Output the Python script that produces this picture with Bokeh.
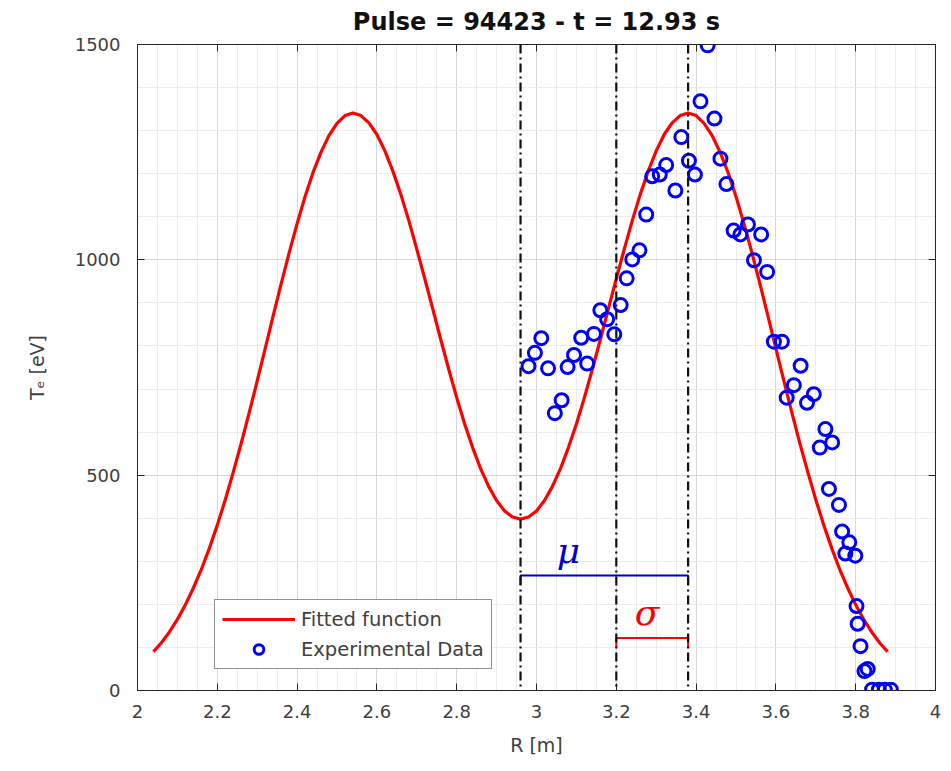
import numpy as np
from bokeh.plotting import figure
from bokeh.models import (SingleIntervalTicker, LinearAxis, Range1d, Label,
                          CustomJSTickFormatter, Span)
from bokeh.embed import file_html
from bokeh.resources import INLINE

# ---------------- data ----------------
title_text = "Pulse = 94423 - t = 12.93 s"
x_label = "R [m]"
y_label = "Tₑ [eV]"

# fitted function
fit_R = [2.04, 2.06, 2.08, 2.10, 2.12, 2.14, 2.16, 2.18, 2.20, 2.22, 2.24, 2.26,
         2.28, 2.30, 2.32, 2.34, 2.36, 2.38, 2.40, 2.42, 2.44, 2.46, 2.48, 2.50,
         2.52, 2.54, 2.56, 2.58, 2.60, 2.62, 2.64, 2.66, 2.68, 2.70, 2.72, 2.74,
         2.76, 2.78, 2.80, 2.82, 2.84, 2.86, 2.88, 2.90, 2.92, 2.94, 2.96, 2.98,
         3.00, 3.02, 3.04, 3.06, 3.08, 3.10, 3.12, 3.14, 3.16, 3.18, 3.20, 3.22,
         3.24, 3.26, 3.28, 3.30, 3.32, 3.34, 3.36, 3.38, 3.40, 3.42, 3.44, 3.46,
         3.48, 3.50, 3.52, 3.54, 3.56, 3.58, 3.60, 3.62, 3.64, 3.66, 3.68, 3.70,
         3.72, 3.74, 3.76, 3.78, 3.80, 3.82, 3.84, 3.86, 3.88]
fit_T = [90, 111, 136, 165, 199, 238, 281, 330, 384, 443, 507, 574,
         645, 719, 794, 870, 944, 1016, 1084, 1147, 1203, 1250, 1289, 1317,
         1335, 1341, 1335, 1318, 1291, 1253, 1206, 1152, 1091, 1025, 956, 886,
         815, 746, 680, 619, 564, 515, 474, 441, 417, 403, 398, 403,
         417, 441, 474, 515, 564, 619, 680, 746, 815, 886, 956, 1025,
         1091, 1152, 1206, 1253, 1291, 1318, 1335, 1341, 1335, 1317, 1289, 1250,
         1203, 1147, 1084, 1016, 944, 870, 794, 719, 645, 574, 507, 443,
         384, 330, 281, 238, 199, 165, 136, 111, 90]

# experimental data
exp_R = [2.980, 2.996, 3.012, 3.029, 3.046, 3.063, 3.078, 3.094, 3.112, 3.127,
         3.144, 3.160, 3.177, 3.195, 3.211, 3.226, 3.240, 3.258, 3.275, 3.290,
         3.309, 3.325, 3.348, 3.363, 3.382, 3.397, 3.411, 3.429, 3.446, 3.461,
         3.476, 3.494, 3.511, 3.530, 3.545, 3.563, 3.578, 3.595, 3.615, 3.627,
         3.645, 3.662, 3.678, 3.695, 3.710, 3.724, 3.733, 3.741, 3.758, 3.766,
         3.774, 3.784, 3.799, 3.802, 3.805, 3.812, 3.822, 3.830, 3.841, 3.858,
         3.873, 3.888]
exp_T = [753, 784, 818, 748, 644, 674, 751, 779, 819, 759,
         828, 883, 862, 827, 895, 957, 1001, 1022, 1105, 1194,
         1198, 1220, 1161, 1285, 1230, 1198, 1368, 1498, 1328, 1235,
         1176, 1068, 1059, 1082, 999, 1059, 972, 810, 810, 680,
         709, 754, 668, 688, 564, 607, 468, 576, 431, 369,
         318, 344, 313, 196, 155, 103, 45, 50, 2, 2,
         2, 2]

# markers of the fit parameters
r_min, r_sigma, r_peak = 2.96, 3.20, 3.38
mu_bar_T, sigma_bar_T, bar_tick = 267, 122, 22
mu_label_pos = (3.08, 325)
sigma_label_pos = (3.277, 181)

# ---------------- figure ----------------
TXT = "#404040"
FONT = "DejaVu Sans"

p = figure(width=951, height=771, output_backend="svg", toolbar_location=None,
           x_range=Range1d(2, 4), y_range=Range1d(0, 1500),
           min_border_left=137, min_border_right=16, min_border_top=43,
           min_border_bottom=81, background_fill_color="white",
           border_fill_color="white", title=title_text)

p.title.align = "center"
p.title.text_font = FONT
p.title.text_font_size = "24px"
p.title.text_font_style = "bold"
p.title.text_color = "#111111"
p.title.standoff = 10

xt = SingleIntervalTicker(interval=0.2, num_minor_ticks=4)
yt = SingleIntervalTicker(interval=500, num_minor_ticks=5)
p.xaxis.ticker = xt
p.yaxis.ticker = yt
p.xgrid.ticker = xt
p.ygrid.ticker = yt
p.xaxis.formatter = CustomJSTickFormatter(code="return Number(tick.toFixed(1)).toString();")

for ax in (p.xaxis[0], p.yaxis[0]):
    ax.major_tick_in = 7
    ax.major_tick_out = 0
    ax.minor_tick_line_color = None
    ax.axis_line_color = "#262626"
    ax.major_tick_line_color = "#262626"
    ax.major_label_text_font = FONT
    ax.major_label_text_font_size = "18px"
    ax.major_label_text_color = TXT
    ax.axis_label_text_font = FONT
    ax.axis_label_text_font_size = "19px"
    ax.axis_label_text_font_style = "normal"
    ax.axis_label_text_color = TXT

p.xaxis.axis_label = x_label
p.yaxis.axis_label = y_label
p.xaxis.major_label_standoff = 10
p.xaxis.axis_label_standoff = 13
p.yaxis.major_label_standoff = 13
p.yaxis.axis_label_standoff = 24

blank = CustomJSTickFormatter(code="return '';")
for loc, tk in (("right", yt), ("above", xt)):
    ax = LinearAxis(ticker=tk, formatter=blank, major_tick_in=7, major_tick_out=0,
                    minor_tick_line_color=None, major_label_standoff=0,
                    axis_line_color="#262626", major_tick_line_color="#262626")
    p.add_layout(ax, loc)

p.outline_line_color = "#262626"

p.xgrid.grid_line_color = "#d8d8d8"
p.ygrid.grid_line_color = "#d8d8d8"
p.xgrid.minor_grid_line_color = "#ececec"
p.ygrid.minor_grid_line_color = "#ececec"

# fitted curve + data
p.line(fit_R, fit_T, line_color="#ff0000", line_width=3.2, line_join="round",
       legend_label="Fitted function")
p.scatter(exp_R, exp_T, marker="circle", size=13, fill_color=None,
          line_color="#0000ff", line_width=3, legend_label="Experimental Data")

# dash-dot vertical lines
for r in (r_min, r_sigma, r_peak):
    p.add_layout(Span(location=r, dimension="height", line_color="#111111",
                      line_width=2.2, line_dash="9 4 2 4"))

# mu and sigma bars
p.line([r_min, r_min, r_peak, r_peak],
       [mu_bar_T - bar_tick, mu_bar_T, mu_bar_T, mu_bar_T - bar_tick],
       line_color="#0000cc", line_width=2)
p.line([r_sigma, r_sigma, r_peak, r_peak],
       [sigma_bar_T - bar_tick, sigma_bar_T, sigma_bar_T, sigma_bar_T - bar_tick],
       line_color="#ff0000", line_width=2)

p.add_layout(Label(x=mu_label_pos[0], y=mu_label_pos[1], text="μ",
                   text_align="center", text_baseline="middle",
                   text_font="DejaVu Serif", text_font_style="italic",
                   text_font_size="36px", text_color="#0000cc"))
p.add_layout(Label(x=sigma_label_pos[0], y=sigma_label_pos[1], text="σ",
                   text_align="center", text_baseline="middle",
                   text_font="DejaVu Serif", text_font_style="italic",
                   text_font_size="36px", text_color="#ff0000"))

# legend
lg = p.legend[0]
lg.location = (77, 21)
lg.glyph_width = 73
lg.glyph_height = 24
lg.label_standoff = 6
lg.label_text_font = FONT
lg.label_text_font_size = "19.5px"
lg.label_text_color = TXT
lg.spacing = 6
lg.padding = 7
lg.margin = 0
lg.border_line_color = "#262626"
lg.border_line_width = 1
lg.background_fill_color = "white"
lg.background_fill_alpha = 1

open("out.html", "w").write(file_html(p, INLINE))
